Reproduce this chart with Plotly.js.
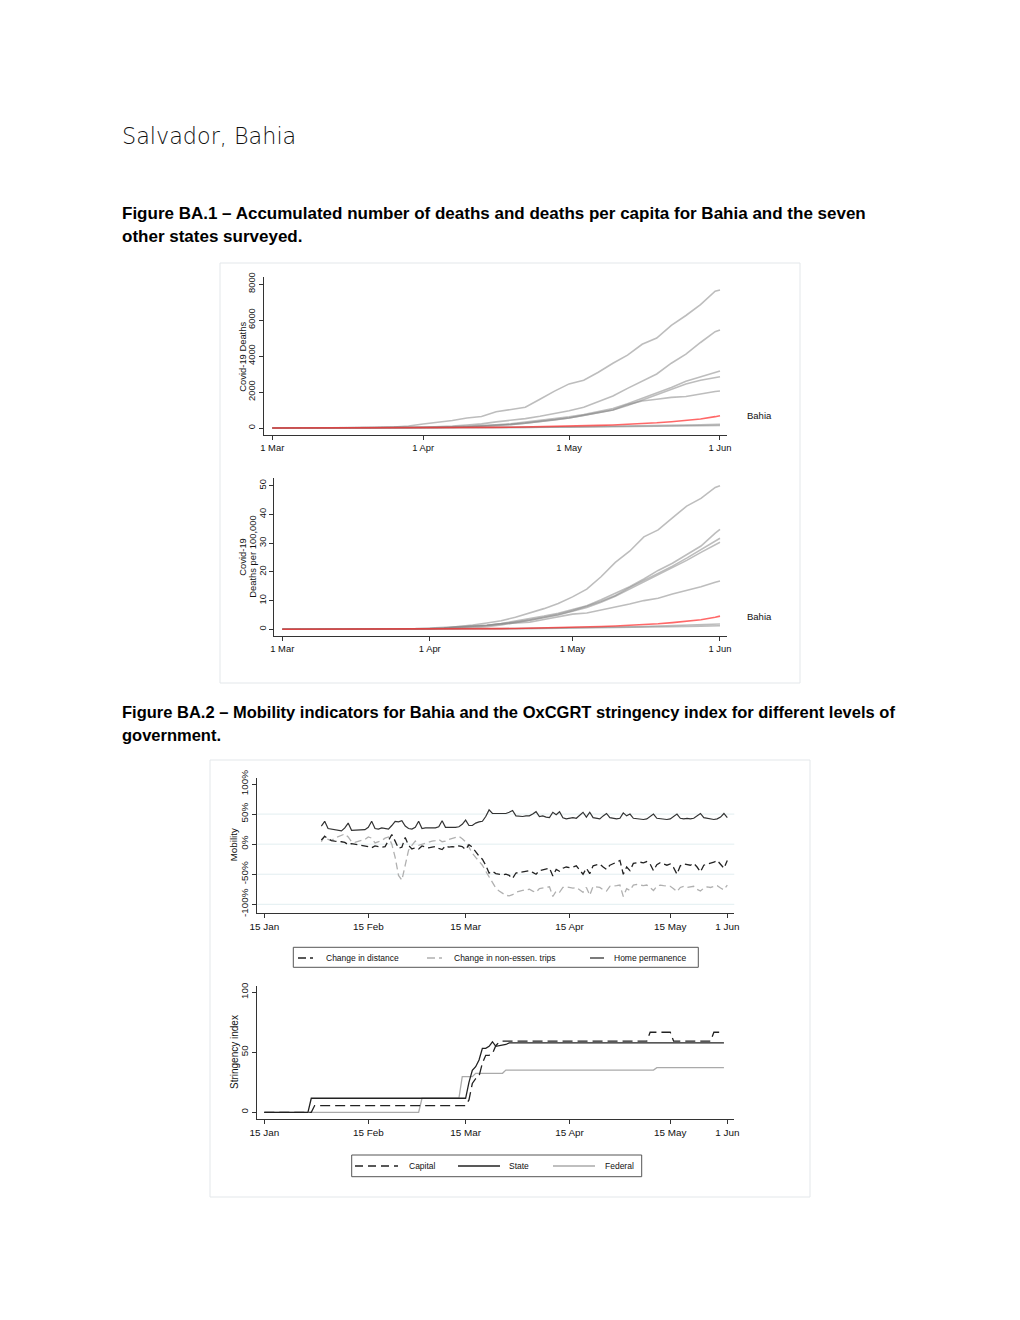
<!DOCTYPE html>
<html><head><meta charset="utf-8">
<script src="https://cdn.plot.ly/plotly-3.0.1.min.js"></script>
<style>html,body{margin:0;padding:0;background:#fff;}#chart{width:1020px;height:1320px;}</style>
</head><body><div id="chart"></div>
<script>
// ---------------- Figure BA.1 data (sampled dates) ----------------
const deathDates = ['2020-03-01','2020-03-12','2020-03-18','2020-03-22','2020-03-26','2020-03-29','2020-04-01','2020-04-04','2020-04-07','2020-04-10','2020-04-13','2020-04-16','2020-04-19','2020-04-22','2020-04-25','2020-04-28','2020-05-01','2020-05-04','2020-05-07','2020-05-10','2020-05-13','2020-05-16','2020-05-19','2020-05-22','2020-05-25','2020-05-28','2020-05-31','2020-06-01'];
// accumulated deaths
const deathsA = [0,0,4,15,58,113,220,300,420,560,640,900,1020,1150,1600,2050,2450,2650,3100,3600,4050,4650,5000,5700,6250,6850,7600,7670];
const deathsB = [0,0,0,3,10,25,45,70,110,170,230,340,420,520,650,800,960,1150,1460,1780,2200,2610,3000,3600,4100,4750,5350,5440];
const deathsC = [0,0,0,0,3,8,20,35,60,90,130,180,230,320,400,500,620,750,900,1080,1350,1650,1950,2250,2600,2850,3100,3167];
const deathsD = [0,0,0,0,1,5,12,20,32,55,90,140,190,260,360,450,560,700,850,1000,1250,1550,1850,2150,2450,2650,2800,2850];
const deathsE = [0,0,0,0,1,3,10,20,40,70,100,150,200,270,350,450,560,700,850,1000,1300,1500,1600,1700,1750,1900,2030,2055];
const deathsF = [0,0,0,0,1,3,5,7,10,14,20,25,30,36,42,50,60,68,76,88,100,115,130,145,160,175,195,200];
const deathsG = [0,0,0,0,0,1,3,5,8,11,15,19,24,28,33,38,45,52,58,66,75,85,95,105,115,125,135,140];
const deathsBahia = [0,0,0,0,0,1,3,6,10,15,25,35,45,55,70,85,100,120,145,170,200,240,290,350,410,500,630,683];
// deaths per 100,000
const pcA = [0,0,0,0,0.02,0.07,0.2,0.45,0.9,1.5,2.2,3.0,4.2,5.6,7.2,9.0,11.3,14.0,18.3,23.3,27.2,32.2,34.6,38.8,42.9,45.6,49.4,50.0];
const pcB = [0,0,0,0,0.03,0.09,0.22,0.38,0.65,1.0,1.4,2.0,2.8,3.6,4.6,5.6,6.8,8.2,10.3,12.5,14.8,17.5,20.5,23.0,26.0,29.0,33.5,34.8];
const pcC = [0,0,0,0.02,0.06,0.14,0.26,0.4,0.63,1.0,1.3,1.9,2.5,3.2,4.2,5.2,6.5,8.0,9.8,11.8,14.5,17.0,19.5,22.0,24.8,27.8,30.5,31.7];
const pcD = [0,0,0,0,0.01,0.05,0.13,0.21,0.33,0.58,0.95,1.5,2.3,3.0,4.0,5.0,6.2,7.6,9.4,11.5,14.0,16.5,19.0,21.5,24.0,26.8,29.5,30.3];
const pcE = [0,0,0.01,0.03,0.13,0.25,0.48,0.65,0.9,1.2,1.4,1.9,2.2,2.5,3.4,4.4,5.3,5.7,6.7,7.8,8.8,10.0,10.8,12.3,13.5,14.8,16.4,16.8];
const pcF = [0,0,0,0,0.01,0.03,0.05,0.07,0.1,0.13,0.18,0.22,0.27,0.32,0.37,0.44,0.53,0.6,0.67,0.78,0.88,1.0,1.15,1.28,1.42,1.55,1.75,1.85];
const pcG = [0,0,0,0,0,0.01,0.03,0.05,0.07,0.1,0.13,0.17,0.2,0.24,0.28,0.33,0.39,0.45,0.5,0.57,0.65,0.73,0.82,0.9,1.0,1.1,1.2,1.25];
const pcBahia = [0,0,0,0,0,0.01,0.02,0.04,0.07,0.1,0.17,0.23,0.3,0.37,0.47,0.57,0.67,0.8,0.97,1.14,1.34,1.6,1.94,2.34,2.75,3.35,4.2,4.6];
const deathTickVals = ['2020-03-01','2020-04-01','2020-05-01','2020-06-01'];
const deathTickText = ['1 Mar','1 Apr','1 May','1 Jun'];

// ---------------- Figure BA.2 data (daily, 1 Feb - 1 Jun) ----------------
const mobilityStart = '2020-02-01';
const changeDistance = [
 7,13,9,6,5,5,4,3,-1,1,0,0,-1,-2,-4,-6,-3,-4,-5,-4,5,16,5,-7,-5,11,-2,-8,-6,
 -8,-3,-4,-6,-5,-4,-7,-9,-3,-5,-4,-5,-3,-4,-9,-1,-5,-12,-20,-25,-35,-48,-45,-49,-50,-51,-50,-52,-57,-48,-47,
 -46,-45,-44,-47,-50,-44,-43,-42,-40,-53,-42,-45,-40,-38,-39,-38,-36,-43,-50,-40,-49,-36,-35,-33,-38,-42,-35,-33,-30,-27,
 -50,-38,-44,-32,-31,-30,-31,-29,-33,-44,-34,-31,-33,-35,-33,-39,-50,-36,-33,-34,-35,-32,-38,-46,-35,-33,-32,-30,-27,-33,-40,
 -27];
const changeTrips = [
 4,14,8,6,10,12,15,17,12,4,3,5,6,8,12,10,2,4,6,10,12,0,-22,-52,-60,-35,-10,-2,5,
 -2,0,2,4,5,6,8,4,5,8,10,12,13,9,4,-5,-15,-22,-28,-35,-45,-55,-65,-73,-78,-82,-85,-86,-84,-80,-78,
 -77,-76,-75,-78,-80,-74,-73,-72,-71,-87,-78,-80,-72,-71,-72,-73,-72,-76,-80,-72,-85,-70,-71,-72,-76,-78,-70,-70,-69,-68,
 -87,-74,-77,-68,-67,-68,-69,-68,-72,-77,-70,-68,-69,-70,-70,-74,-79,-72,-70,-72,-71,-70,-75,-78,-73,-71,-72,-70,-69,-73,-76,
 -68];
const homePermanence = [
 30,38,26,25,25,24,22,27,35,23,23,24,24,24,28,38,26,25,27,26,25,31,38,37,39,30,26,25,28,
 38,26,27,27,28,27,29,39,28,28,27,28,29,33,40,31,31,35,37,38,46,57,51,51,52,51,51,53,56,47,46,
 46,47,47,50,54,46,47,45,44,53,49,54,44,42,43,44,43,48,53,45,53,44,43,42,47,51,44,43,42,43,
 52,47,50,43,42,42,41,42,46,50,43,42,42,41,42,46,50,43,42,43,42,43,47,51,44,43,42,41,42,45,51,
 44];
const mobTickVals = ['2020-01-15','2020-02-15','2020-03-15','2020-04-15','2020-05-15','2020-06-01'];
const mobTickText = ['15 Jan','15 Feb','15 Mar','15 Apr','15 May','1 Jun'];
const mobYTickVals = [-100,-50,0,50,100];
const mobYTickText = ['-100%','-50%','0%','50%','100%'];
const mobGridVals = [-100,-50,0,50];

// stringency index (change points)
const capitalDates = ['2020-01-15','2020-01-29','2020-01-30','2020-03-15','2020-03-16','2020-03-17','2020-03-18','2020-03-19','2020-03-20','2020-03-21','2020-03-22','2020-03-23','2020-03-24','2020-03-25','2020-03-26','2020-05-08','2020-05-09','2020-05-15','2020-05-16','2020-05-27','2020-05-28','2020-05-31'];
const capitalIndex = [0,0,5.6,5.6,10.3,24,28,30,41,47.5,47.5,49,55.5,58.5,59.3,59.3,66.7,66.7,59.3,59.3,66.7,66.7];
const stateDates = ['2020-01-15','2020-01-28','2020-01-29','2020-03-15','2020-03-16','2020-03-17','2020-03-18','2020-03-19','2020-03-20','2020-03-21','2020-03-22','2020-03-23','2020-03-24','2020-03-25','2020-03-27','2020-03-28','2020-05-31'];
const stateIndex = [0,0,11.7,11.7,25,35,38,43.6,53.3,53.3,55,58.8,55,55.5,56.5,57.9,57.9];
const federalDates = ['2020-01-15','2020-03-01','2020-03-02','2020-03-13','2020-03-14','2020-03-17','2020-03-18','2020-03-26','2020-03-27','2020-05-10','2020-05-11','2020-05-31'];
const federalIndex = [0,0,11.7,11.7,29.7,29.7,32.5,32.5,35.2,35.2,37.2,37.2];
const strTickVals = [0,50,100];

// ---------------- helpers (layout only) ----------------
const W = 1020, H = 1320;
const P = x => x / W;
const Q = y => 1 - y / H;
function shift(d, days){ const t = new Date(d + 'T00:00:00Z').getTime() + days*86400000; return new Date(t).toISOString().replace('T',' ').replace('Z',''); }
function dayList(start, n){ const t0 = new Date(start + 'T00:00:00Z').getTime(); const out=[]; for(let i=0;i<n;i++){ out.push(new Date(t0+i*86400000).toISOString().slice(0,10)); } return out; }
const mobDates = dayList(mobilityStart, homePermanence.length);

const FONT = 'Liberation Sans, Arial, Helvetica, sans-serif';
const AX = '#333';
function axis(extra){
  return Object.assign({showline:true, linecolor:AX, linewidth:1, ticks:'outside', ticklen:4, tickcolor:AX, tickwidth:1,
    showgrid:false, zeroline:false, fixedrange:true, tickfont:{family:FONT, size:9.4, color:'#111'}}, extra);
}

const GREY = 'rgba(135,135,135,0.55)';
const RED = 'rgba(255,40,40,0.7)';
const traces = [];
function line(x, y, xa, ya, color, width, dash){ traces.push({type:'scatter', mode:'lines', x:x, y:y, xaxis:xa, yaxis:ya, showlegend:false, hoverinfo:'skip', line:{color:color, width:width, dash:dash||'solid'}}); }

[deathsA,deathsB,deathsC,deathsD,deathsE,deathsF,deathsG].forEach(s => line(deathDates, s, 'x', 'y', GREY, 1.6));
line(deathDates, deathsBahia, 'x', 'y', RED, 1.6);
[pcA,pcB,pcC,pcD,pcE,pcF,pcG].forEach(s => line(deathDates, s, 'x2', 'y2', GREY, 1.6));
line(deathDates, pcBahia, 'x2', 'y2', RED, 1.6);

line(mobDates, changeTrips, 'x3', 'y3', '#b0b0b0', 1.3, '7px,4px');
line(mobDates, changeDistance, 'x3', 'y3', '#222', 1.3, '7px,4px');
line(mobDates, homePermanence, 'x3', 'y3', '#333', 1.2);

line(federalDates, federalIndex, 'x4', 'y4', '#aaaaaa', 1.3);
line(stateDates, stateIndex, 'x4', 'y4', '#222', 1.3);
line(capitalDates, capitalIndex, 'x4', 'y4', '#222', 1.3, '10px,5px');

const layout = {
  width: W, height: H, margin:{l:0,r:0,t:0,b:0}, paper_bgcolor:'#fff', plot_bgcolor:'rgba(0,0,0,0)',
  showlegend:false, hovermode:false,
  xaxis: axis({type:'date', domain:[P(264),P(727)], anchor:'y', range:[shift('2020-03-01',-1.70), shift('2020-06-01',1.44)], tickvals:deathTickVals, ticktext:deathTickText}),
  yaxis: axis({domain:[Q(435),Q(277)], anchor:'x', range:[-389,8389], tickvals:[0,2000,4000,6000,8000], ticktext:['0','2000','4000','6000','8000'], tickangle:-90}),
  xaxis2: axis({type:'date', domain:[P(274.3),P(726.7)], anchor:'y2', range:[shift('2020-03-01',-1.68), shift('2020-06-01',1.41)], tickvals:deathTickVals, ticktext:deathTickText}),
  yaxis2: axis({domain:[Q(636),Q(478.3)], anchor:'x2', range:[-2.33,52.58], tickvals:[0,10,20,30,40,50], ticktext:['0','10','20','30','40','50'], tickangle:-90}),
  xaxis3: axis({type:'date', domain:[P(257.3),P(734.3)], anchor:'y3', range:[shift('2020-01-15',-2.09), shift('2020-06-01',2.09)], tickvals:mobTickVals, ticktext:mobTickText, tickfont:{family:FONT,size:9.9,color:'#111'}}),
  yaxis3: axis({domain:[Q(913.3),Q(778.3)], anchor:'x3', range:[-114.96,109.5], tickvals:mobYTickVals, ticktext:mobYTickText, tickangle:-90, tickfont:{family:FONT,size:9.9,color:'#111'}}),
  xaxis4: axis({type:'date', domain:[P(257.3),P(734.3)], anchor:'y4', range:[shift('2020-01-15',-2.09), shift('2020-06-01',2.09)], tickvals:mobTickVals, ticktext:mobTickText, tickfont:{family:FONT,size:9.9,color:'#111'}}),
  yaxis4: axis({domain:[Q(1119),Q(986)], anchor:'x4', range:[-5.58,105.25], tickvals:strTickVals, ticktext:['0','50','100'], tickangle:-90, tickfont:{family:FONT,size:9.9,color:'#111'}}),
  shapes: [], annotations: []
};

const S = layout.shapes, A = layout.annotations;
// panel outlines
S.push({type:'rect', xref:'paper', yref:'paper', x0:P(220), x1:P(800), y0:Q(683), y1:Q(263), line:{color:'#e3e7ea', width:1}});
S.push({type:'rect', xref:'paper', yref:'paper', x0:P(210), x1:P(810), y0:Q(1197), y1:Q(760), line:{color:'#e3e7ea', width:1}});
// mobility gridlines
mobGridVals.forEach(v => S.push({type:'line', layer:'below', xref:'x3 domain', x0:0, x1:1, yref:'y3', y0:v, y1:v, line:{color:'#e2eef0', width:1}}));

function txt(text, x, y, size, opts){
  A.push(Object.assign({text:text, xref:'paper', yref:'paper', x:P(x), y:Q(y), xanchor:'left', yanchor:'middle', showarrow:false,
    font:{family:FONT, size:size, color:'#111'}}, opts||{}));
}
// page texts
txt('Salvador, Bahia', 120, 136, 22.3, {font:{family:'DejaVu Sans, Lato, sans-serif', size:22.3, color:'#111', weight:200}});
txt('Figure BA.1 – Accumulated number of deaths and deaths per capita for Bahia and the seven', 120, 213, 17, {font:{family:FONT, size:17, color:'#000', weight:'bold'}});
txt('other states surveyed.', 120, 236, 17, {font:{family:FONT, size:17, color:'#000', weight:'bold'}});
txt('Figure BA.2 – Mobility indicators for Bahia and the OxCGRT stringency index for different levels of', 120, 712, 16.5, {font:{family:FONT, size:16.5, color:'#000', weight:'bold'}});
txt('government.', 120, 735, 16.5, {font:{family:FONT, size:16.5, color:'#000', weight:'bold'}});

// axis titles
function ytitle(text, x, y, size){ A.push({text:text, xref:'paper', yref:'paper', x:P(x), y:Q(y), xanchor:'center', yanchor:'middle', textangle:-90, showarrow:false, font:{family:FONT, size:size, color:'#111'}}); }
ytitle('Covid-19 Deaths', 241.7, 357, 9.4);
ytitle('Covid-19', 241.7, 557, 9.4);
ytitle('Deaths per 100,000', 251.7, 557, 9.4);
ytitle('Mobility', 233.3, 845, 9.8);
ytitle('Stringency index', 234, 1052, 10);

// Bahia labels
A.push({text:'Bahia', xref:'paper', x:P(745), yref:'y', y:deathsBahia[deathsBahia.length-1], xanchor:'left', yanchor:'middle', showarrow:false, font:{family:FONT, size:9.5, color:'#111'}});
A.push({text:'Bahia', xref:'paper', x:P(745), yref:'y2', y:pcBahia[pcBahia.length-1], xanchor:'left', yanchor:'middle', showarrow:false, font:{family:FONT, size:9.5, color:'#111'}});

// legend for mobility
S.push({type:'rect', xref:'paper', yref:'paper', x0:P(293.3), x1:P(698.3), y0:Q(967.3), y1:Q(947.3), line:{color:'#555', width:1}});
function sample(x0, x1, y, color, dash){ S.push({type:'line', xref:'paper', yref:'paper', x0:P(x0), x1:P(x1), y0:Q(y), y1:Q(y), line:{color:color, width:1.3, dash:dash||'solid'}}); }
sample(298, 313, 958, '#222', '8px,4px');
sample(427, 442, 958, '#b0b0b0', '8px,4px');
sample(590, 604, 958, '#333');
txt('Change in distance', 324.3, 958, 8.5);
txt('Change in non-essen. trips', 451.7, 958, 8.5);
txt('Home permanence', 611.7, 958, 8.5);

// legend for stringency
S.push({type:'rect', xref:'paper', yref:'paper', x0:P(351.7), x1:P(641.7), y0:Q(1176.7), y1:Q(1155), line:{color:'#555', width:1}});
sample(355, 398, 1166, '#222', '8px,5px');
sample(458, 500, 1166, '#222');
sample(553, 595, 1166, '#aaaaaa');
txt('Capital', 406.7, 1166, 8.5);
txt('State', 506.7, 1166, 8.5);
txt('Federal', 603, 1166, 8.5);

Plotly.newPlot('chart', traces, layout, {staticPlot:true, displayModeBar:false});
</script>
</body></html>
